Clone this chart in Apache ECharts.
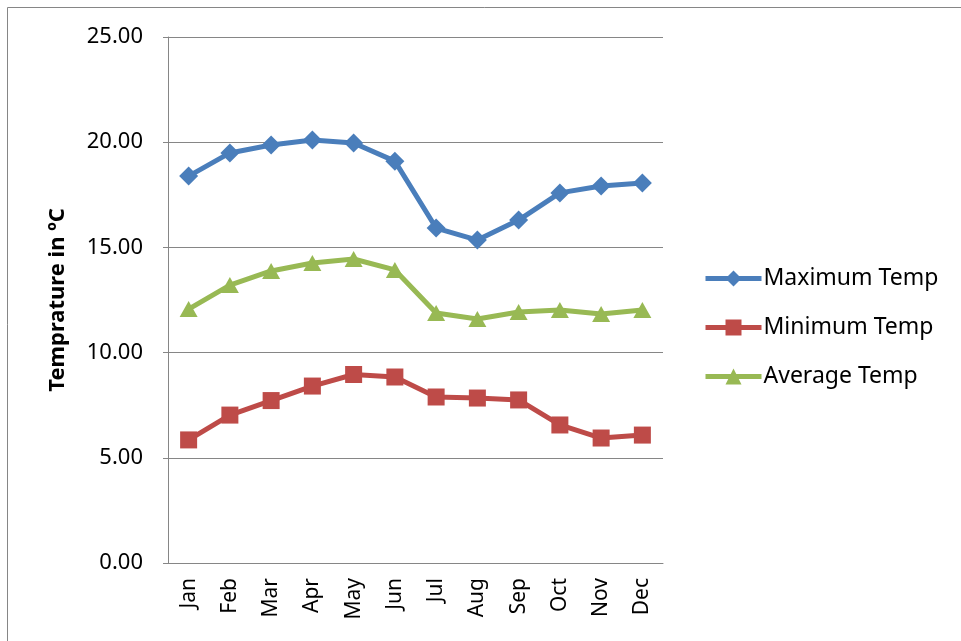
<!DOCTYPE html>
<html>
<head>
<meta charset="utf-8">
<title>Temperature</title>
<script src="https://cdn.jsdelivr.net/npm/echarts@6/dist/echarts.min.js"></script>
<style>
  html, body { margin: 0; padding: 0; background: #fff; }
  #chart { width: 961px; height: 641px; }
</style>
</head>
<body>
<div id="chart"></div>
<script>
const months = ['Jan', 'Feb', 'Mar', 'Apr', 'May', 'Jun', 'Jul', 'Aug', 'Sep', 'Oct', 'Nov', 'Dec']
const maxTemp = [18.39, 19.49, 19.87, 20.10, 19.96, 19.10, 15.92, 15.35, 16.30, 17.59, 17.92, 18.06]
const minTemp = [5.85, 7.03, 7.72, 8.41, 8.96, 8.84, 7.89, 7.84, 7.75, 6.56, 5.94, 6.08]
const avgTemp = [12.07, 13.21, 13.88, 14.26, 14.45, 13.93, 11.88, 11.60, 11.93, 12.02, 11.83, 12.02]

const font = '"Noto Sans", "Open Sans", sans-serif'
const chart = echarts.init(document.getElementById('chart'))

const mkSeries = (name, data, color, symbol, size) => ({
  name: name,
  type: 'line',
  data: data,
  symbol: symbol,
  symbolSize: size,
  showSymbol: true,
  lineStyle: { color: color, width: 5 },
  itemStyle: { color: color },
  emphasis: { disabled: true }
})

const option = {
  animation: false,
  grid: { left: 168, top: 37, right: 298, bottom: 78 },
  legend: {
    orient: 'vertical',
    left: 703,
    top: 267,
    padding: 0,
    itemWidth: 56,
    itemHeight: 20,
    itemGap: 26,
    lineStyle: { width: 5 },
    textStyle: { fontFamily: font, fontSize: 23, color: '#000', padding: [0, 0, 0, -3] },
    data: ['Maximum Temp', 'Minimum Temp', 'Average Temp']
  },
  xAxis: {
    type: 'category',
    data: months,
    boundaryGap: true,
    axisLine: { lineStyle: { color: '#868686', width: 1 } },
    axisTick: { show: false },
    axisLabel: { rotate: 90, fontFamily: font, fontSize: 21, color: '#000', margin: 15 }
  },
  yAxis: {
    type: 'value',
    min: 0,
    max: 25,
    interval: 5,
    name: 'Temprature in ºC',
    nameLocation: 'middle',
    nameGap: 99,
    nameTextStyle: { fontFamily: font, fontSize: 22, fontWeight: 'bold', color: '#000' },
    axisLine: { show: true, lineStyle: { color: '#868686', width: 1 } },
    axisTick: { show: true, inside: false, length: 5, lineStyle: { color: '#868686' } },
    splitLine: { lineStyle: { color: '#868686', width: 1 } },
    axisLabel: {
      fontFamily: font, fontSize: 22, color: '#000', margin: 25,
      formatter: v => v.toFixed(2)
    }
  },
  graphic: [
    { type: 'line', shape: { x1: 7.5, y1: 7.5, x2: 7.5, y2: 641 }, style: { stroke: '#868686', lineWidth: 1 } },
    { type: 'line', shape: { x1: 7.5, y1: 7.5, x2: 961, y2: 7.5 }, style: { stroke: '#868686', lineWidth: 1 } }
  ],
  series: [
    mkSeries('Maximum Temp', maxTemp, '#4A7EBB', 'diamond', [19, 19]),
    mkSeries('Minimum Temp', minTemp, '#BE4B48', 'rect', [17, 17]),
    mkSeries('Average Temp', avgTemp, '#98B954', 'triangle', [18, 16])
  ]
}

chart.setOption(option)
</script>
</body>
</html>
